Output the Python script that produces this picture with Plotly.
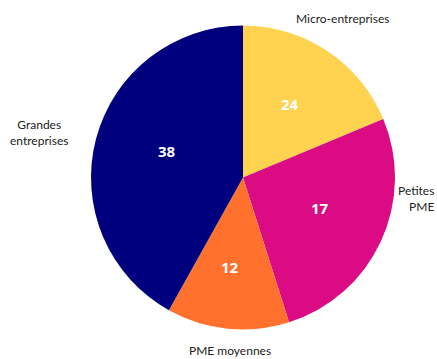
import plotly.graph_objects as go

categories = ["Micro-entreprises", "Petites<br>PME", "PME moyennes", "Grandes<br>entreprises"]
slice_values = [18.7, 26.4, 13.0, 41.9]
value_labels = ["24", "17", "12", "38"]
colors = ["#FFD24F", "#DB0B84", "#FF712D", "#00007F"]

W, H = 437, 359
cx, cy, r = 243, 177.5, 152

fig = go.Figure(go.Pie(
    labels=categories,
    values=slice_values,
    textinfo="none",
    sort=False,
    direction="clockwise",
    rotation=0,
    marker=dict(colors=colors, line=dict(width=0)),
    hoverinfo="label+value",
    domain=dict(x=[(cx - r) / W, (cx + r) / W], y=[(H - cy - r) / H, (H - cy + r) / H]),
    showlegend=False,
))

def px(x, y):
    return x / W, (H - y) / H

label_pos = [(342, 19, "center"), (436, 198, "right"), (230, 350, "center"), (39, 132, "center")]
for lab, (x, y, anc) in zip(categories, label_pos):
    ax, ay = px(x, y)
    fig.add_annotation(x=ax, y=ay, xref="paper", yref="paper",
                       text=lab, showarrow=False, xanchor=anc, yanchor="middle",
                       align=anc, font=dict(size=12, color="#222222", family="Lato"))

value_pos = [(289.5, 104), (320, 208), (230, 267), (167, 150.5)]
for val, (x, y) in zip(value_labels, value_pos):
    ax, ay = px(x, y)
    fig.add_annotation(x=ax, y=ay, xref="paper", yref="paper",
                       text=val, showarrow=False, xanchor="center", yanchor="middle",
                       font=dict(size=15, color="white", family="Open Sans", weight="bold"))

fig.update_layout(width=W, height=H, margin=dict(l=0, r=0, t=0, b=0),
                  paper_bgcolor="white", plot_bgcolor="white")
fig.write_html("out.html", config={"displayModeBar": False},
               post_script="document.body.style.margin='0px';")
